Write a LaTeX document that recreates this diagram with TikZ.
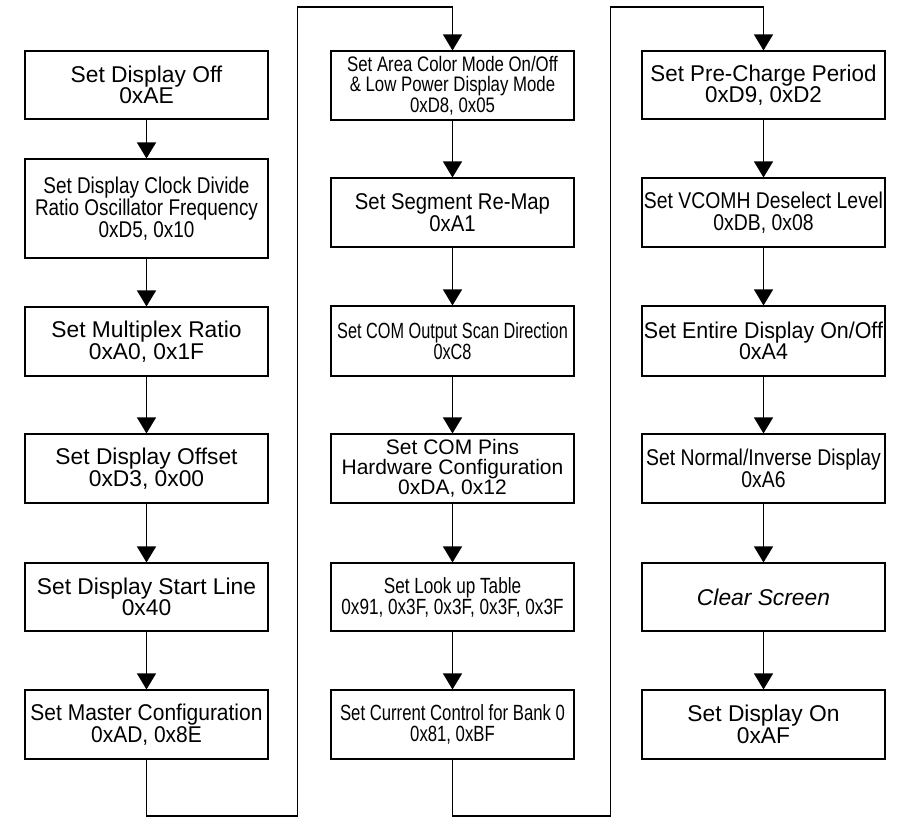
\documentclass[tikz,border=0pt]{standalone}
\usepackage{fontspec}
\setmainfont{Liberation Sans}
\usetikzlibrary{arrows.meta}
\tikzset{
  box/.style={draw, line width=1.1pt, minimum width=243pt, inner sep=0pt, align=center},
  ft/.style n args={3}{font=\fontsize{#1}{#2}\selectfont\addfontfeatures{FakeStretch=#3}},
  arr/.style={-{Triangle[length=16pt,width=19pt]}, line width=1.1pt},
}
\begin{document}
\begin{tikzpicture}[x=1pt,y=-1pt]
\path[use as bounding box] (0,0) rectangle (902,828);
% column 1
\node[box, ft={22.8}{21.5}{1.0},  minimum height=68pt] (a1) at (146.5,85)   {Set Display Off\\0xAE};
\node[box, ft={22.8}{22}{0.83},   minimum height=99pt] (a2) at (146.5,208.5) {Set Display Clock Divide\\Ratio Oscillator Frequency\\0xD5, 0x10};
\node[box, ft={22.8}{21.5}{1.0},  minimum height=69pt] (a3) at (146.5,341.5) {Set Multiplex Ratio\\0xA0, 0x1F};
\node[box, ft={22.8}{21.5}{1.0},  minimum height=69pt] (a4) at (146.5,468.5) {Set Display Offset\\0xD3, 0x00};
\node[box, ft={22.8}{21.5}{1.0},  minimum height=68pt] (a5) at (146.5,597)   {Set Display Start Line\\0x40};
\node[box, ft={22.8}{21.5}{0.92}, minimum height=69pt] (a6) at (146.5,724.5) {Set Master Configuration\\0xAD, 0x8E};
% column 2
\node[box, ft={21}{20.5}{0.80},   minimum height=69pt] (b1) at (452.5,85.5)  {Set Area Color Mode On/Off\\\& Low Power Display Mode\\0xD8, 0x05};
\node[box, ft={22.8}{21.5}{0.89}, minimum height=69pt] (b2) at (452.5,212.5) {Set Segment Re-Map\\0xA1};
\node[box, ft={22}{21}{0.74},     minimum height=70pt] (b3) at (452.5,341)   {Set COM Output Scan Direction\\0xC8};
\node[box, ft={21}{20}{1.0},      minimum height=69pt] (b4) at (452.5,468.5) {Set COM Pins\\Hardware Configuration\\0xDA, 0x12};
\node[box, ft={22}{21}{0.78},     minimum height=68pt] (b5) at (452.5,597)   {Set Look up Table\\0x91, 0x3F, 0x3F, 0x3F, 0x3F};
\node[box, ft={22}{21}{0.76},     minimum height=69pt] (b6) at (452.5,724.5) {Set Current Control for Bank 0\\0x81, 0xBF};
% column 3
\node[box, ft={22.8}{21.5}{0.98}, minimum height=68pt] (c1) at (763.5,85)    {Set Pre-Charge Period\\0xD9, 0xD2};
\node[box, ft={22.8}{21.5}{0.85}, minimum height=69pt] (c2) at (763.5,212.5) {Set VCOMH Deselect Level\\0xDB, 0x08};
\node[box, ft={22.8}{21.5}{0.94}, minimum height=70pt] (c3) at (763.5,341)   {Set Entire Display On/Off\\0xA4};
\node[box, ft={22.8}{21.5}{0.85}, minimum height=69pt] (c4) at (763.5,468.5) {Set Normal/Inverse Display\\0xA6};
\node[box, minimum height=68pt, font={\fontsize{22.8}{21.5}\selectfont\itshape}] (c5) at (763.5,597) {Clear Screen};
\node[box, ft={22.8}{21.5}{1.0},  minimum height=69pt] (c6) at (763.5,724.5) {Set Display On\\0xAF};
% arrows within columns
\foreach \p/\q in {a1/a2,a2/a3,a3/a4,a4/a5,a5/a6,b1/b2,b2/b3,b3/b4,b4/b5,b5/b6,c1/c2,c2/c3,c3/c4,c4/c5,c5/c6}
  \draw[arr] (\p) -- (\q);
% loop connectors
\coordinate (l1b) at (297.5,816);
\coordinate (l1t) at (297.5,7);
\coordinate (l2b) at (610.5,816);
\coordinate (l2t) at (610.5,7);
\draw[arr, line join=miter] (a6.south) |- (l1b) -- (l1t) -| (b1.north);
\draw[arr, line join=miter] (b6.south) |- (l2b) -- (l2t) -| (c1.north);
\end{tikzpicture}
\end{document}
